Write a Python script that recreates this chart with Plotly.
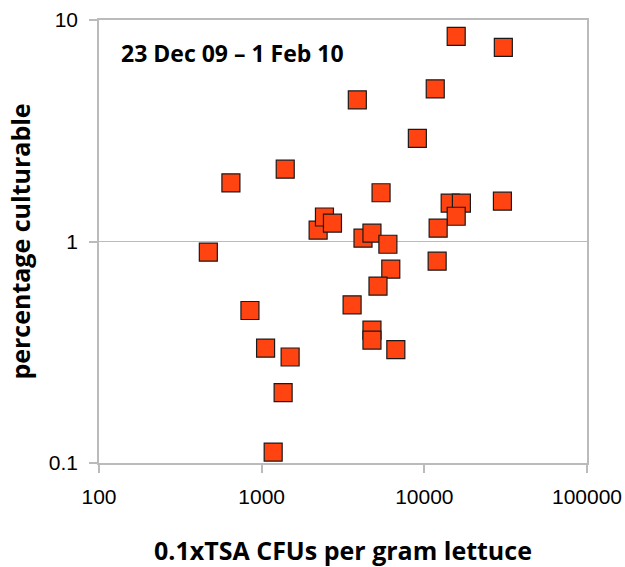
import plotly.graph_objects as go

tsa_cfu = [15700, 30600, 11670, 3873, 9060, 5420, 30200, 14420, 16900, 15700,
           12160, 4198, 4765, 5970, 6220, 5190, 3597, 4765, 4765, 6680,
           11990, 1396, 647, 2224, 2432, 2724, 470, 847, 1057, 1496, 1355, 1177]
pct_culturable = [8.44, 7.53, 4.89, 4.36, 2.92, 1.66, 1.52, 1.49, 1.49, 1.30,
                  1.148, 1.035, 1.09, 0.972, 0.750, 0.629, 0.518, 0.398, 0.359, 0.325,
                  0.815, 2.12, 1.84, 1.125, 1.29, 1.21, 0.895, 0.488, 0.330, 0.301, 0.208, 0.112]

x_ticks = [100, 1000, 10000, 100000]
x_tick_labels = ["100", "1000", "10000", "100000"]
y_ticks = [0.1, 1, 10]
y_tick_labels = ["0.1", "1", "10"]

fig = go.Figure()
fig.add_trace(go.Scatter(
    x=tsa_cfu, y=pct_culturable, mode="markers",
    marker=dict(symbol="square", size=18, color="#FF4411",
                line=dict(color="#1a1a1a", width=1.2)),
    showlegend=False, hoverinfo="x+y"))

fig.update_layout(
    width=625, height=567,
    margin=dict(l=99, r=38, t=20, b=104),
    paper_bgcolor="white", plot_bgcolor="white",
    font=dict(family="Liberation Sans, Arial, sans-serif", color="black"),
    annotations=[dict(text="<b>23 Dec 09 \u2013 1 Feb 10</b>", xref="paper", yref="paper",
                      x=0.041, y=0.925, xanchor="left", yanchor="middle", showarrow=False,
                      font=dict(family="Open Sans, sans-serif", size=23, color="black"))],
)
fig.update_xaxes(type="log", range=[2, 5], tickvals=x_ticks, ticktext=x_tick_labels,
                 showgrid=False, showline=True, linecolor="#bbbbbb", linewidth=1.5,
                 mirror=True, ticks="outside", ticklen=8, tickcolor="#bbbbbb", tickwidth=1.5,
                 tickfont=dict(size=21), ticklabelstandoff=6, zeroline=False, automargin=False,
                 title=dict(text="<b>0.1xTSA CFUs per gram lettuce</b>", standoff=40,
                            font=dict(family="Open Sans, sans-serif", size=25)))
fig.update_yaxes(type="log", range=[-1, 1], tickvals=y_ticks, ticktext=y_tick_labels,
                 showgrid=True, gridcolor="#bbbbbb", gridwidth=1.2,
                 showline=True, linecolor="#bbbbbb", linewidth=1.5,
                 mirror=True, ticks="outside", ticklen=8, tickcolor="#bbbbbb", tickwidth=1.5,
                 tickfont=dict(size=21), ticklabelstandoff=7, zeroline=False, automargin=False,
                 title=dict(text="<b>percentage culturable</b>", standoff=11,
                            font=dict(family="Open Sans, sans-serif", size=25)))

fig.write_html("out.html", config={"displayModeBar": False},
               post_script="document.body.style.margin='0';")
